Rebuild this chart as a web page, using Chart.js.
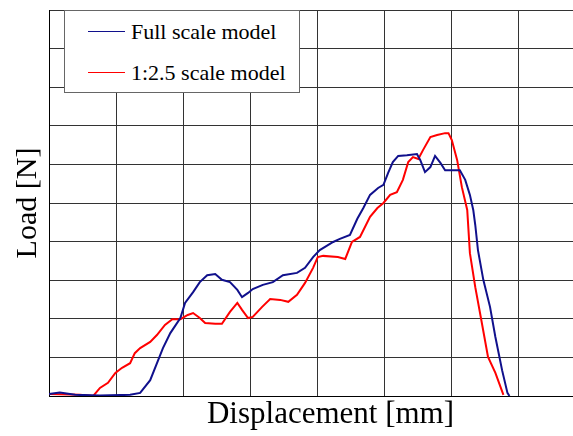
<!DOCTYPE html>
<html>
<head>
<meta charset="utf-8">
<title>Load vs displacement</title>
<script src="https://cdn.jsdelivr.net/npm/chart.js@4.4.1/dist/chart.umd.min.js"></script>
<style>
  html, body { margin: 0; padding: 0; background: #fff; overflow: hidden; }
  #wrap { position: relative; width: 573px; height: 436px; overflow: hidden; }
  #loadChart { position: absolute; left: 0; top: 0; }
  #legend {
    position: absolute; left: 64px; top: 10px; width: 236px; height: 83px;
    box-sizing: border-box; border: 1px solid #666; background: #fff;
  }
  .swatch { position: absolute; left: 88px; width: 37px; height: 1px; }
  .lbl {
    position: absolute; left: 131px; white-space: nowrap;
    font: 22px/22px "Liberation Serif", "DejaVu Serif", serif; color: #000;
  }
</style>
</head>
<body>
<div id="wrap">
  <!-- the source figure is cropped on the right: canvas is wider than the window -->
  <canvas id="loadChart" width="612" height="436"></canvas>
  <div id="legend"></div>
  <div class="swatch" style="top:31px;background:#10108c"></div>
  <div class="lbl" style="top:21px">Full scale model</div>
  <div class="swatch" style="top:72px;background:#ff0000"></div>
  <div class="lbl" style="top:62px">1:2.5 scale model</div>
</div>
<script>
/* Load-displacement curves, full scale vs 1:2.5 scale model.
   Units are grid divisions (no tick labels in the source figure). */

var fullDisp = [0, 0.16, 0.39, 0.76, 1.21, 1.36, 1.51, 1.70, 1.81, 1.96, 2.03, 2.15, 2.25, 2.36,
  2.48, 2.58, 2.70, 2.81, 2.88, 2.97, 3.04, 3.19, 3.34, 3.49, 3.70, 3.82, 3.94, 4.04, 4.24,
  4.34, 4.49, 4.60, 4.69, 4.79, 4.91, 4.99, 5.06, 5.13, 5.21, 5.34, 5.49, 5.54, 5.61, 5.69,
  5.76, 5.84, 5.91, 6.06, 6.13, 6.21, 6.28, 6.33, 6.36, 6.40, 6.48, 6.58, 6.66, 6.76, 6.84, 6.87];
var fullLoad = [0.05, 0.09, 0.03, 0.01, 0.03, 0.08, 0.41, 1.24, 1.63, 2.02, 2.41, 2.69, 2.95, 3.13,
  3.16, 3.01, 2.95, 2.75, 2.56, 2.67, 2.77, 2.88, 2.95, 3.13, 3.19, 3.32, 3.60, 3.78, 3.99,
  4.07, 4.17, 4.59, 4.87, 5.21, 5.39, 5.47, 5.78, 6.06, 6.22, 6.24, 6.27, 6.11, 5.80, 5.93,
  6.22, 6.04, 5.85, 5.85, 5.85, 5.60, 5.21, 4.82, 4.43, 3.78, 3.01, 2.31, 1.53, 0.67, 0.08, 0];

var scaleDisp = [0, 0.46, 0.66, 0.76, 0.88, 0.99, 1.09, 1.21, 1.28, 1.36, 1.51, 1.61, 1.73, 1.84,
  1.96, 2.07, 2.15, 2.25, 2.33, 2.48, 2.58, 2.70, 2.81, 2.88, 2.97, 3.04, 3.18, 3.30, 3.45,
  3.57, 3.70, 3.82, 3.94, 4.01, 4.09, 4.31, 4.42, 4.52, 4.64, 4.79, 4.90, 4.99, 5.09, 5.19,
  5.28, 5.36, 5.43, 5.51, 5.58, 5.69, 5.79, 5.91, 5.96, 6.01, 6.09, 6.16, 6.24, 6.28, 6.36,
  6.45, 6.55, 6.66, 6.78];
var scaleLoad = [0.05, 0.03, 0, 0.21, 0.34, 0.60, 0.73, 0.85, 1.11, 1.24, 1.40, 1.58, 1.84, 1.99,
  1.99, 2.10, 2.15, 2.02, 1.89, 1.87, 1.87, 2.18, 2.41, 2.23, 2.02, 2.05, 2.31, 2.51, 2.49,
  2.44, 2.62, 2.93, 3.32, 3.60, 3.63, 3.60, 3.55, 3.99, 4.12, 4.64, 4.87, 5.00, 5.21, 5.28,
  5.60, 6.06, 6.19, 6.14, 6.37, 6.71, 6.76, 6.81, 6.81, 6.63, 6.11, 5.41, 4.82, 3.70, 2.82,
  1.97, 1.01, 0.60, 0.03];

var seriesLabels = ['Full scale model', '1:2.5 scale model'];
var xTitle = 'Displacement [mm]';
var yTitle = 'Load [N]';

var BLUE = '#10108c';
var RED  = '#ff0000';
var GRID = '#333333';

function toPoints(xs, ys) {
  return xs.map(function (x, i) { return { x: x, y: ys[i] }; });
}

var serif = '"Liberation Serif", "DejaVu Serif", serif';

new Chart(document.getElementById('loadChart'), {
  type: 'line',
  data: {
    datasets: [
      { label: seriesLabels[0], data: toPoints(fullDisp, fullLoad), borderColor: BLUE,
        borderWidth: 2, pointRadius: 0, tension: 0, fill: false },
      { label: seriesLabels[1], data: toPoints(scaleDisp, scaleLoad), borderColor: RED,
        borderWidth: 2, pointRadius: 0, tension: 0, fill: false },
    ],
  },
  options: {
    responsive: false,
    animation: false,
    events: [],
    layout: { padding: { top: 10, right: 0, bottom: 0, left: 0 } },
    plugins: { legend: { display: false }, tooltip: { enabled: false } },
    scales: {
      x: {
        type: 'linear', min: 0, max: 8.4,
        ticks: { display: false, stepSize: 1 },
        grid: { color: GRID, lineWidth: 1, drawTicks: false },
        border: { color: '#000', width: 1 },
        title: { display: true, text: xTitle, color: '#000',
          font: { family: serif, size: 31, lineHeight: 1.2 }, padding: { top: 0, bottom: 3 } },
        afterBuildTicks: function (s) {
          s.ticks = s.ticks.filter(function (t) { return Number.isInteger(t.value); });
        },
        afterFit: function (s) { s.height = 40; },
      },
      y: {
        type: 'linear', min: 0, max: 10,
        ticks: { display: false, stepSize: 1 },
        grid: { color: GRID, lineWidth: 1, drawTicks: false },
        border: { color: '#000', width: 1 },
        title: { display: true, text: yTitle, color: '#000',
          font: { family: serif, size: 30, lineHeight: 1.2 }, padding: { top: 10, bottom: 0 } },
        afterFit: function (s) { s.width = 49; },
      },
    },
  },
});
</script>
</body>
</html>
